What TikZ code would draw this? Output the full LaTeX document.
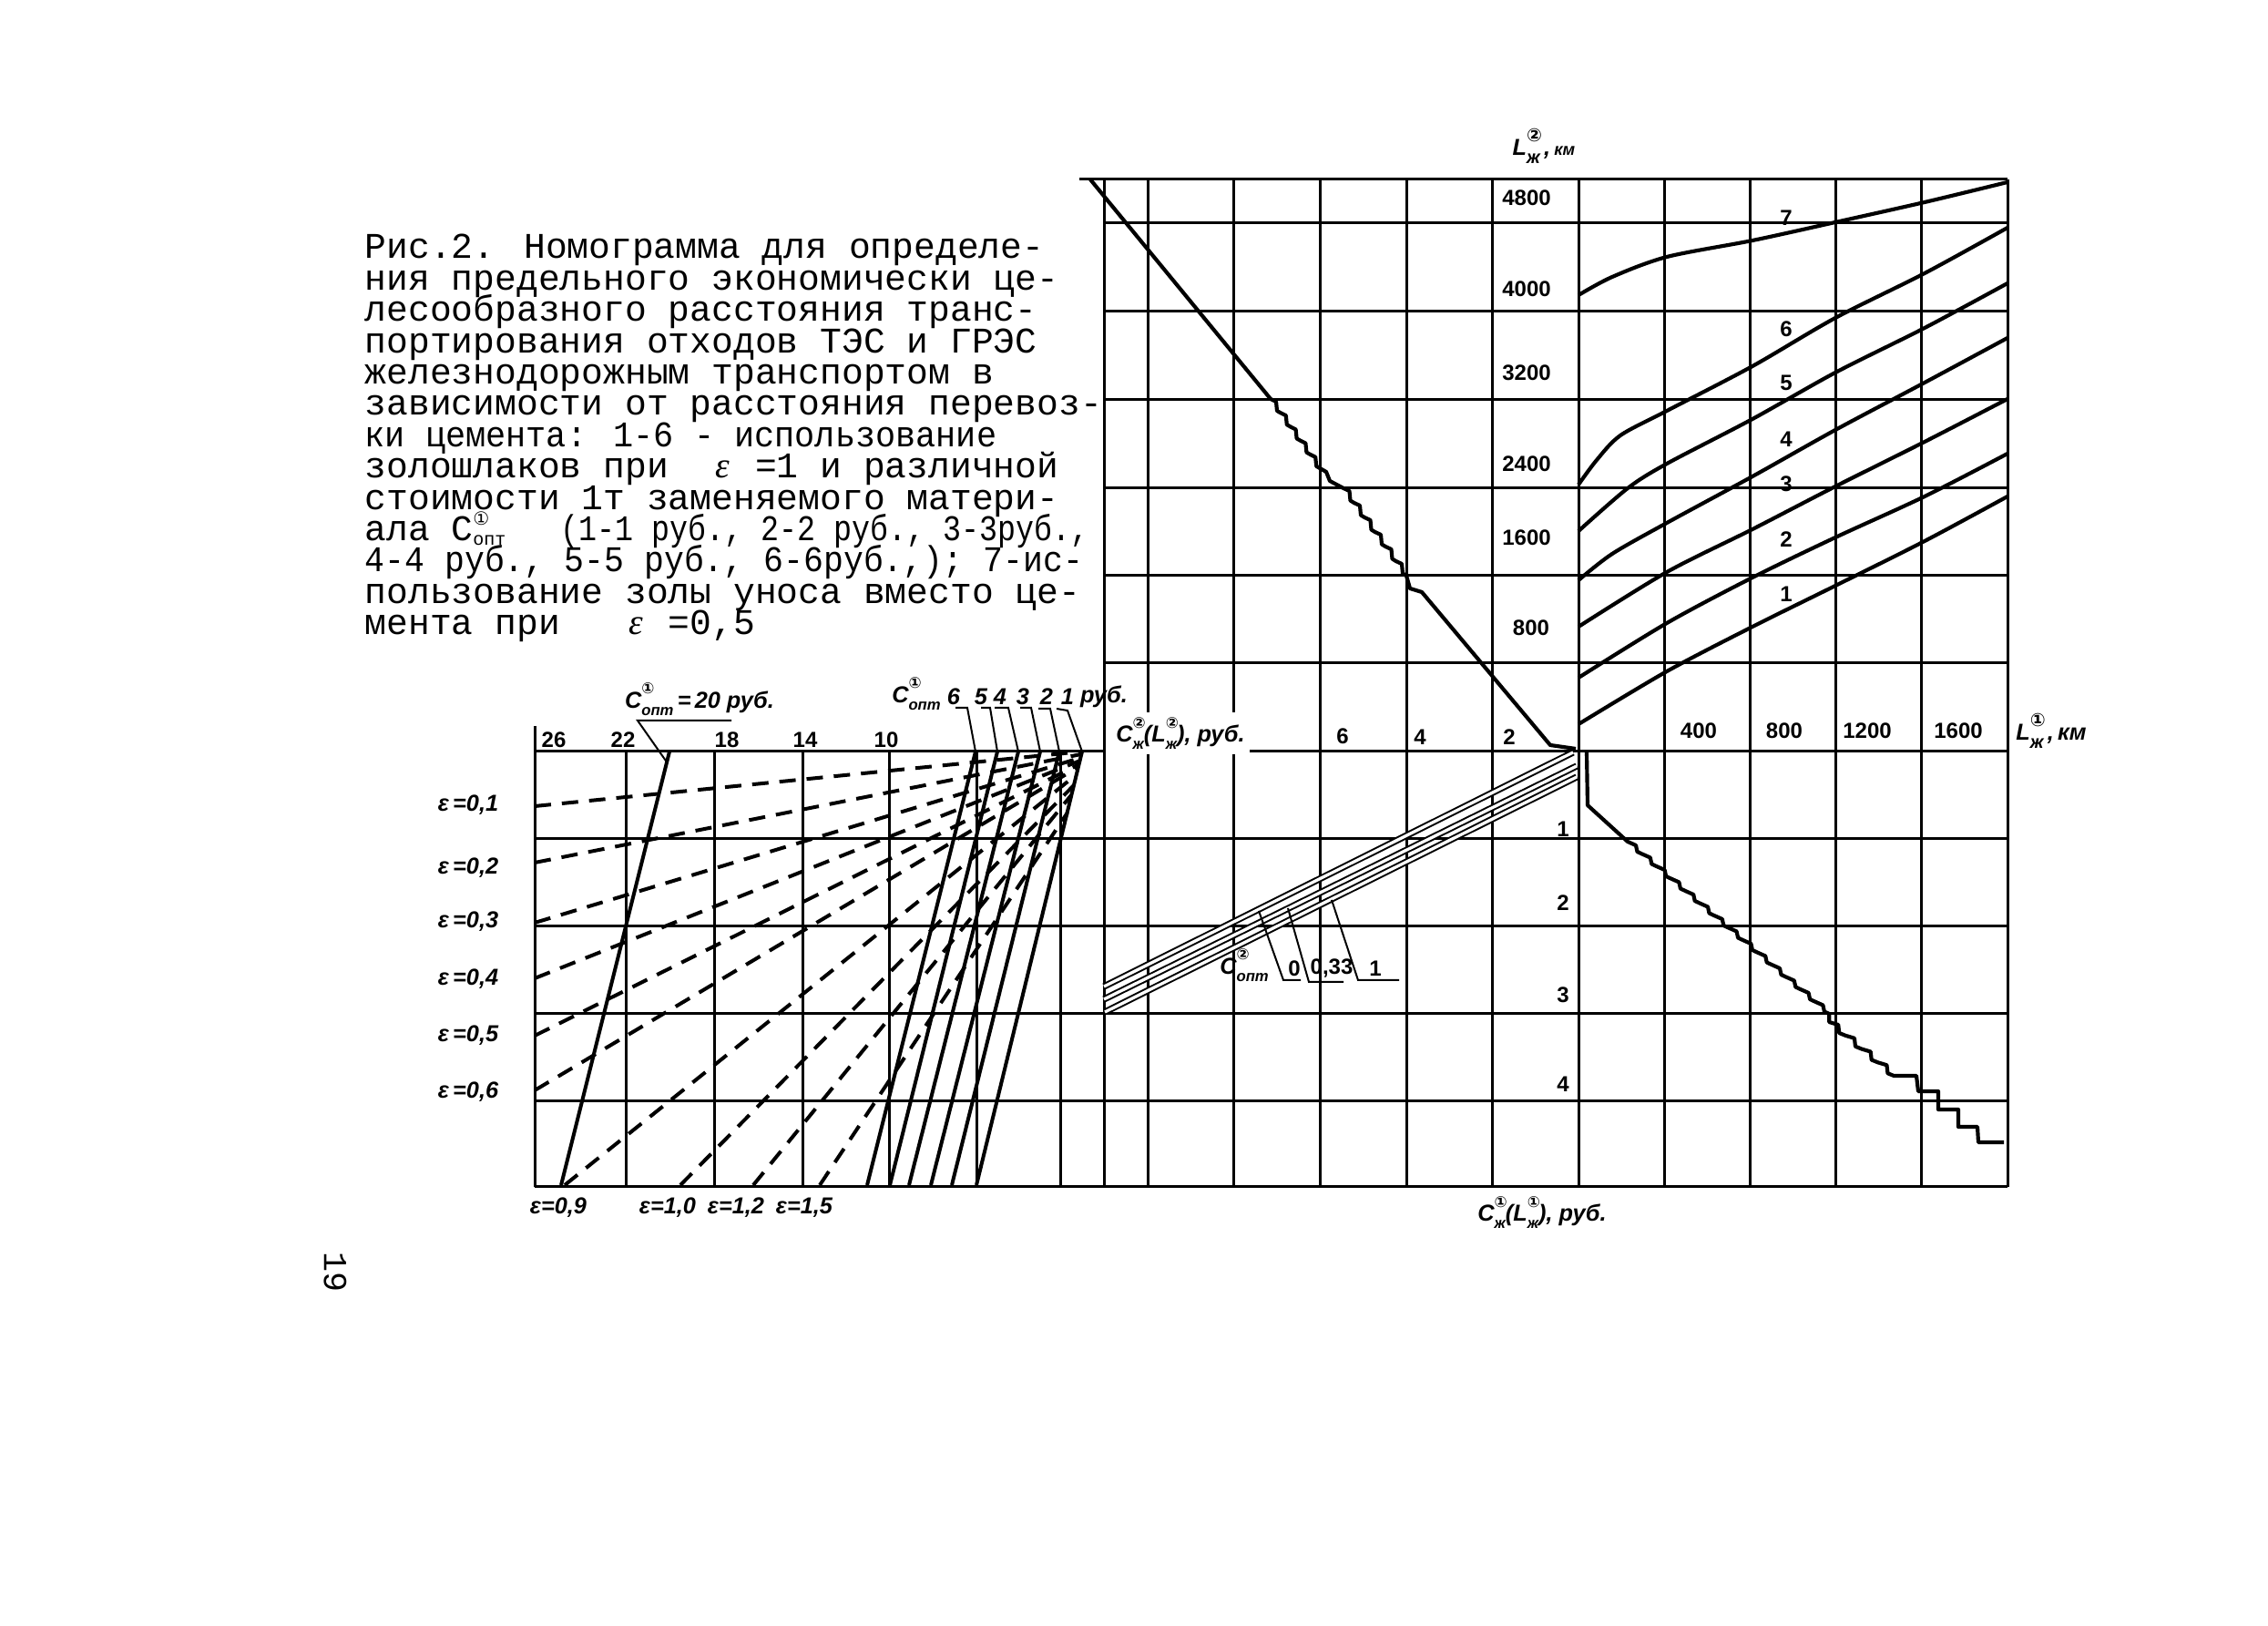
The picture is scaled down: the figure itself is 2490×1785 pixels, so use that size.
\documentclass[tikz,border=0pt]{standalone}
\usepackage{fontspec}
\usepackage{graphicx}
\setmainfont{Liberation Serif}
\newfontfamily\capf{Liberation Mono}
\newfontfamily\numf{Liberation Sans}
\newfontfamily\dv{DejaVu Sans}
\newcommand\eps{{\rmfamily\itshape ε}}
\newcommand\SupSub[3]{\makebox[0pt][l]{\raisebox{0.62em}{\fontsize{#1}{#1}\selectfont #2}}\raisebox{-0.32em}{\fontsize{#1}{#1}\selectfont #3}}
\newcommand\SupSubR[5]{\makebox[0pt][l]{\raisebox{#4}{\fontsize{#1}{#1}\selectfont #2}}\raisebox{#5}{\fontsize{#1}{#1}\selectfont #3}}
\begin{document}
\begin{tikzpicture}[x=0.3pt,y=-0.3pt,
  gridl/.style={line width=0.9pt},
  curvel/.style={line width=1.25pt, line join=round},
  epsl/.style={line width=1.2pt, dash pattern=on 5.4pt off 3.6pt},
  fanl/.style={line width=1.2pt},
  leadl/.style={line width=0.6pt},
  dbl/.style={line width=0.6pt, double, double distance=1.0pt},
  num/.style={font=\numf\bfseries\fontsize{7.2pt}{8pt}\selectfont, inner sep=0pt},
  ital/.style={font=\numf\bfseries\itshape\fontsize{7.6pt}{8pt}\selectfont, inner sep=0pt},
  capl/.style={font=\capf\fontsize{11.9pt}{10.3pt}\selectfont, inner sep=0pt, anchor=base west}]
\fill[white] (0,0) rectangle (2490,1785);
\useasboundingbox (0,0) rectangle (2490,1785);

% ---------- caption ----------
\node[capl] (c1) at (400,284) {Рис.2. Номограмма для определе-};
\node[capl] (c2) at (400,318.4) {ния предельного экономически це-};
\node[capl] (c3) at (400,352.8) {лесообразного расстояния транс-};
\node[capl] (c4) at (400,387.2) {портирования отходов ТЭС и ГРЭС};
\node[capl] (c5) at (400,421.6) {железнодорожным транспортом в};
\node[capl] (c6) at (400,456) {зависимости от расстояния перевоз-};
\node[capl] (c7) at (400,490.4) {\scalebox{0.93}[1]{ки цемента: 1-6 - использование}};
\node[capl] (c8) at (400,524.8) {золошлаков при\ \ \makebox[0.6em]{\eps} =1 и различной};
\node[capl] (c9) at (400,559.2) {стоимости 1т заменяемого матери-};
\node[capl] (c10a) at (400,593.6) {ала};
\node[capl] (c10b) at (495,593.6) {C\SupSubR{6pt}{\dv ①}{опт}{0.42em}{-0.12em}};
\node[capl] (c10c) at (615,593.6) {\scalebox{0.84}[1]{(1-1 руб., 2-2 руб., 3-3руб.,}};
\node[capl] (c11) at (400,628) {\scalebox{0.92}[1]{4-4 руб., 5-5 руб., 6-6руб.,); 7-ис-}};
\node[capl] (c12) at (400,662.4) {пользование золы уноса вместо це-};
\node[capl] (c13) at (400,696.8) {мента при\ \ \ \makebox[0.6em]{\eps} =0,5};
\node[font=\capf\fontsize{11pt}{11pt}\selectfont, rotate=-90, inner sep=0pt] (page) at (368,1397) {19};

% ---------- grid ----------
\draw[gridl] (1185,197) -- (2204,197);
\foreach \y in {245,342,439,536,632,728} \draw[gridl] (1212,\y) -- (2204,\y);
\draw[gridl] (587,825) -- (1212,825);
\draw[gridl] (1370,825) -- (2204,825);
\foreach \y in {921,1017,1113,1209,1303} \draw[gridl] (587,\y) -- (2204,\y);
\foreach \x in {1212,1260,1354,1449,1544,1638,1733,1827,1921,2015,2109,2204} \draw[gridl] (\x,197) -- (\x,1303);
\draw[gridl] (587,797) -- (587,1303);
\foreach \x in {687,784,881,976,1072,1164} \draw[gridl] (\x,825) -- (\x,1303);

% ---------- upper right curves ----------
\draw[curvel] plot[smooth] coordinates {(1733,324) (1770,304) (1830,282) (1924,264) (2015,244) (2113,222) (2204,200)};
\draw[curvel] plot[smooth] coordinates {(1733,532) (1753,505) (1779,478) (1830,451) (1924,402) (2015,349) (2113,300) (2204,250)};
\draw[curvel] plot[smooth] coordinates {(1733,583) (1787,536) (1830,509) (1924,460) (2015,409) (2113,360) (2204,311)};
\draw[curvel] plot[smooth] coordinates {(1733,637) (1770,608) (1830,574) (1924,523) (2015,472) (2113,420) (2204,371)};
\draw[curvel] plot[smooth] coordinates {(1733,688) (1830,628) (1924,581) (2015,534) (2113,485) (2204,438)};
\draw[curvel] plot[smooth] coordinates {(1733,744) (1830,684) (1924,634) (2015,590) (2113,545) (2204,498)};
\draw[curvel] plot[smooth] coordinates {(1733,795) (1830,737) (1924,688) (2015,643) (2113,594) (2204,545)};
\node[num] (k7) at (1961,239) {7};
\node[num] (k6) at (1961,361) {6};
\node[num] (k5) at (1961,420) {5};
\node[num] (k4) at (1961,482) {4};
\node[num] (k3) at (1961,531) {3};
\node[num] (k2) at (1961,592) {2};
\node[num] (k1) at (1961,652) {1};

% ---------- upper left diagonal ----------
\draw[curvel] (1197,197) -- (1395,438)
  \foreach \i in {1,...,5} { -- ++(6,3) -- ++(1,10) -- ++(3.8,2.2) }
  -- (1456,518) -- (1460,528) -- (1475,536)
  \foreach \i in {1,...,6} { -- ++(6.5,3) -- ++(1,10.5) -- ++(4,2.5) }
  -- (1548,646) -- (1561,650) -- (1702,818) -- (1730,822);

% ---------- lower right staircase ----------
\draw[curvel] (1742,826) -- (1743,884) -- (1787,924)
  \foreach \i in {1,...,14} { -- ++(9,4) -- ++(1.5,7) -- ++(5.3,2.5) }
  -- ++(0,9)
  \foreach \i in {1,...,4} { -- ++(10,3) -- ++(1,9) -- ++(6.75,2.75) }
  -- (2104,1181) -- (2106,1198) -- (2128,1198) -- (2128,1218) -- (2150,1218)
  -- (2150,1237) -- (2171,1237) -- (2172,1254) -- (2200,1254);

% ---------- lower left bands ----------
\draw[dbl] (1727,826) -- (1212,1083);
\draw[dbl] (1731,841) -- (1212,1097);
\draw[dbl] (1731,853) -- (1213,1111);
\draw[leadl] (1382,1000) -- (1409,1076) -- (1428,1076);
\draw[leadl] (1414,997) -- (1437,1078) -- (1475,1078);
\draw[leadl] (1462,988) -- (1491,1076) -- (1536,1076);
\node[ital] (co2) at (1366,1060) {C\SupSub{5pt}{\dv ②}{опт}};
\node[num] (b0) at (1421,1063) {0};
\node[num] (b033) at (1462,1063) {0,33};
\node[num] (b1) at (1510,1063) {1};

% ---------- left chart ----------
\draw[fanl] (735,825) -- (616,1301);
\draw[fanl] (1071,825) -- (952,1301);
\draw[fanl] (1095,825) -- (977,1301);
\draw[fanl] (1118,825) -- (998,1301);
\draw[fanl] (1142,825) -- (1022,1301);
\draw[fanl] (1163,825) -- (1045,1301);
\draw[fanl] (1188,825) -- (1072,1301);
\draw[epsl] (587,885) -- (1188,825);
\draw[epsl] (587,947) -- (1187,828);
\draw[epsl] (587,1013) -- (1186,832);
\draw[epsl] (587,1074) -- (1186,835);
\draw[epsl] (587,1137) -- (1185,839);
\draw[epsl] (587,1197) -- (1184,842);
\draw[epsl] (620,1301) -- (1181,851);
\draw[epsl] (747,1301) -- (1179,862);
\draw[epsl] (827,1301) -- (1176,873);
\draw[epsl] (900,1301) -- (1172,892);

\draw[leadl] (803,791) -- (700,791) -- (733,838);
\node[ital] (c20) at (768,768) {C\SupSub{5pt}{\dv ①}{опт}\,=\,20 руб.};
\draw[leadl] (1049,777) -- (1062,777) -- (1071,825);
\draw[leadl] (1077,777) -- (1087,777) -- (1095,825);
\draw[leadl] (1092,777) -- (1107,777) -- (1118,825);
\draw[leadl] (1120,777) -- (1132,777) -- (1142,825);
\draw[leadl] (1140,778) -- (1153,778) -- (1163,825);
\draw[leadl] (1160,778) -- (1172,780) -- (1188,825);
\node[ital] (cf) at (1006,762) {C\SupSub{5pt}{\dv ①}{опт}};
\node[ital] (f6) at (1047,765) {6};
\node[ital] (f5) at (1077,765) {5};
\node[ital] (f4) at (1098,765) {4};
\node[ital] (f3) at (1123,765) {3};
\node[ital] (f2) at (1149,765) {2};
\node[ital] (f1) at (1172,765) {1};
\node[ital] (frub) at (1212,765) {руб.};

\node[num] (t26) at (608,812) {26};
\node[num] (t22) at (684,812) {22};
\node[num] (t18) at (798,812) {18};
\node[num] (t14) at (884,812) {14};
\node[num] (t10) at (973,812) {10};

\node[ital] (e1) at (514,884) {ε\,=0,1};
\node[ital] (e2) at (514,953) {ε\,=0,2};
\node[ital] (e3) at (514,1012) {ε\,=0,3};
\node[ital] (e4) at (514,1075) {ε\,=0,4};
\node[ital] (e5) at (514,1137) {ε\,=0,5};
\node[ital] (e6) at (514,1199) {ε\,=0,6};
\node[ital] (e9) at (613,1326) {ε=0,9};
\node[ital] (e10) at (733,1326) {ε=1,0};
\node[ital] (e12) at (808,1326) {ε=1,2};
\node[ital] (e15) at (883,1326) {ε=1,5};

% ---------- right chart labels ----------
\node[ital] (Ltop) at (1695,160) {L\SupSub{6pt}{\dv ②}{ж}\,,\,{\fontsize{5.5pt}{6pt}\selectfont км}};
\node[num] (v4800) at (1676,217) {4800};
\node[num] (v4000) at (1676,317) {4000};
\node[num] (v3200) at (1676,409) {3200};
\node[num] (v2400) at (1676,509) {2400};
\node[num] (v1600) at (1676,590) {1600};
\node[num] (v800) at (1681,689) {800};
\node[num] (h6) at (1474,808) {6};
\node[num] (h4) at (1559,809) {4};
\node[num] (h2) at (1657,809) {2};
\node[ital, fill=white, inner sep=1.5pt] (cz2) at (1296,805) {C\SupSub{5pt}{\dv ②}{ж}(L\SupSub{5pt}{\dv ②}{ж}), руб.};
\node[num] (x400) at (1865,802) {400};
\node[num] (x800) at (1959,802) {800};
\node[num] (x1200) at (2050,802) {1200};
\node[num] (x1600) at (2150,802) {1600};
\node[ital] (Lright) at (2252,802) {L\SupSub{6pt}{\dv ①}{ж}\,,\,км};
\node[num] (y1) at (1716,910) {1};
\node[num] (y2) at (1716,991) {2};
\node[num] (y3) at (1716,1092) {3};
\node[num] (y4) at (1716,1190) {4};
\node[ital] (cz1) at (1693,1331) {C\SupSub{5pt}{\dv ①}{ж}(L\SupSub{5pt}{\dv ①}{ж}), руб.};
\end{tikzpicture}
\end{document}
